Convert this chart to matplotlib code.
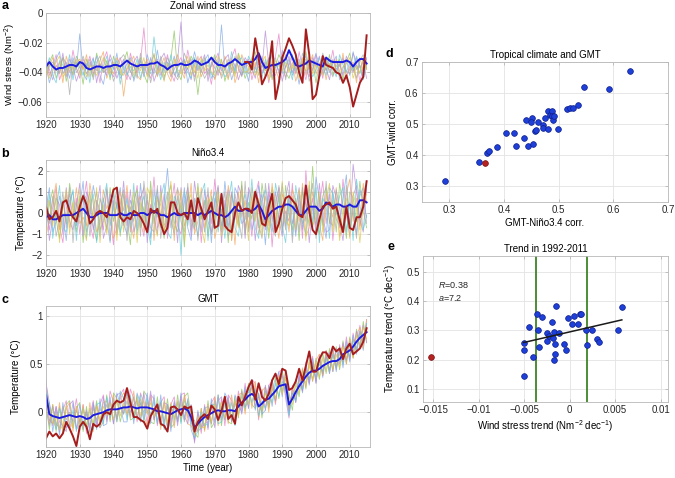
import numpy as np
import matplotlib.pyplot as plt

plt.rcParams['font.family'] = ['Liberation Sans', 'DejaVu Sans']
plt.rcParams['mathtext.fontset'] = 'custom'
plt.rcParams['mathtext.rm'] = 'Liberation Sans'
plt.rcParams['mathtext.it'] = 'Liberation Sans:italic'
plt.rcParams['font.size'] = 7

years = np.arange(1920, 2016)
obs_wind_years = np.arange(1979, 2016)

# ---- a: zonal wind stress, in 1e-3 N m-2 ----
wind_mean = [
    -36, -33, -36, -38, -37, -37, -36, -35, -35, -36, -33, -34,
    -37, -38, -37, -36, -36, -37, -36, -36, -35, -35, -36, -34,
    -32, -34, -35, -36, -35, -35, -35, -34, -34, -33, -35, -36,
    -38, -36, -35, -35, -34, -35, -35, -34, -32, -33, -35, -34,
    -33, -30, -33, -35, -35, -36, -34, -33, -31, -33, -35, -34,
    -33, -33, -31, -27, -33, -37, -36, -35, -35, -34, -33, -31,
    -25, -30, -35, -36, -35, -34, -32, -33, -34, -35, -36, -30,
    -32, -33, -33, -33, -33, -32, -33, -36, -33, -31, -31, -34]
wind_obs = [
    -33, -33, -38, -17, -30, -48, -43, -37, -19, -58, -47, -30, -24,
    -17, -22, -28, -40, -47, -11, -28, -58, -55, -42, -29, -35, -36,
    -37, -40, -41, -47, -42, -50, -63, -55, -47, -43, -15]
wind_members = [
    [-30, -42, -36, -28, -45, -38, -33, -40, -25, -37, -44, -31,
     -36, -29, -41, -35, -47, -32, -26, -39, -43, -34, -30, -38,
     -45, -27, -36, -40, -33, -10, -38, -44, -35, -31, -42, -37,
     -28, -40, -46, -34, -30, -39, -25, -36, -43, -33, -29, -41,
     -37, -48, -32, -27, -39, -35, -44, -30, -24, -38, -42, -34,
     -31, -45, -36, -28, -40, -33, -47, -35, -29, -14, -38, -43,
     -35, -30, -41, -26, -37, -45, -32, -39, -28, -34, -44, -31,
     -36, -25, -40, -35, -30, -42, -38, -27, -33, -46, -36, -31],
    [-40, -33, -28, -44, -37, -30, -46, -35, -41, -29, -34, -48,
     -31, -38, -43, -27, -36, -40, -32, -45, -29, -37, -42, -33,
     -26, -39, -44, -36, -30, -41, -47, -34, -28, -38, -33, -43,
     -37, -31, -12, -40, -45, -32, -38, -29, -34, -55, -36, -30,
     -42, -35, -28, -40, -31, -46, -37, -33, -41, -27, -35, -44,
     -38, -30, -26, -42, -35, -39, -31, -45, -36, -28, -33, -40,
     -44, -37, -29, -34, -41, -26, -38, -32, -47, -35, -30, -39,
     -28, -42, -36, -31, -45, -33, -27, -39, -35, -41, -30, -37],
    [-35, -47, -39, -31, -26, -41, -36, -44, -30, -38, -14, -40,
     -45, -33, -37, -29, -42, -48, -35, -31, -38, -27, -44, -40,
     -34, -30, -46, -38, -32, -43, -28, -36, -41, -25, -39, -45,
     -33, -37, -29, -43, -36, -31, -47, -38, -26, -35, -40, -32,
     -28, -41, -44, -36, -8, -39, -33, -45, -37, -30, -42, -35,
     -46, -32, -38, -27, -41, -36, -30, -43, -34, -39, -25, -37,
     -31, -42, -36, -48, -33, -29, -40, -35, -27, -44, -38, -32,
     -40, -34, -29, -45, -37, -31, -42, -26, -38, -35, -43, -30],
    [-44, -36, -30, -39, -33, -47, -29, -37, -42, -34, -31, -38,
     -28, -43, -35, -39, -32, -26, -44, -37, -41, -30, -35, -56,
     -38, -33, -29, -42, -45, -36, -31, -39, -27, -43, -36, -30,
     -41, -46, -34, -28, -38, -44, -32, -36, -40, -29, -43, -37,
     -33, -30, -45, -38, -42, -29, -36, -31, -47, -39, -28, -34,
     -36, -41, -33, -47, -29, -37, -43, -32, -38, -44, -35, -28,
     -39, -33, -46, -37, -30, -42, -35, -28, -41, -36, -32, -45,
     -34, -38, -31, -40, -27, -44, -36, -33, -47, -30, -39, -35],
    [-32, -38, -45, -35, -40, -27, -43, -31, -36, -46, -39, -33,
     -41, -36, -30, -47, -34, -38, -42, -28, -35, -44, -37, -31,
     -40, -45, -33, -29, -37, -35, -42, -30, -46, -39, -31, -27,
     -35, -43, -38, -32, -6, -41, -37, -45, -31, -39, -34, -28,
     -46, -33, -37, -42, -35, -31, -28, -40, -34, -45, -38, -30,
     -34, -37, -44, -31, -37, -12, -35, -39, -42, -32, -46, -36,
     -29, -40, -34, -31, -44, -38, -43, -30, -36, -29, -41, -37,
     -45, -31, -38, -34, -42, -29, -35, -40, -30, -37, -33, -44],
    [-38, -30, -42, -47, -32, -35, -39, -28, -45, -33, -37, -42,
     -34, -47, -31, -38, -40, -36, -29, -43, -37, -32, -48, -35,
     -42, -36, -39, -31, -44, -34, -37, -41, -16, -36, -45, -33,
     -39, -28, -42, -37, -33, -35, -40, -44, -30, -38, -32, -35,
     -31, -44, -39, -33, -37, -43, -40, -26, -39, -32, -30, -41,
     -29, -34, -40, -36, -44, -31, -39, -27, -37, -33, -41, -30,
     -36, -45, -31, -42, -27, -35, -33, -43, -38, -30, -37, -42,
     -31, -37, -43, -28, -35, -40, -33, -38, -29, -36, -45, -34],
    [-42, -35, -33, -38, -41, -30, -34, -55, -32, -40, -36, -29,
     -37, -31, -45, -33, -29, -40, -38, -35, -46, -39, -31, -28,
     -33, -40, -35, -44, -27, -39, -33, -47, -37, -42, -29, -40,
     -30, -35, -41, -45, -38, -27, -34, -31, -46, -33, -38, -44,
     -39, -36, -30, -34, -44, -37, -31, -38, -29, -36, -43, -32,
     -41, -38, -30, -35, -32, -44, -33, -36, -30, -41, -29, -45,
     -33, -28, -39, -36, -34, -31, -46, -37, -32, -40, -27, -35,
     -38, -43, -33, -36, -31, -39, -41, -35, -44, -32, -28, -38],
    [-36, -44, -38, -33, -29, -43, -40, -34, -38, -31, -42, -36,
     -43, -35, -38, -42, -37, -30, -34, -41, -33, -36, -39, -42,
     -37, -32, -42, -34, -39, -30, -43, -35, -32, -41, -37, -46,
     -34, -42, -31, -38, -41, -36, -29, -42, -35, -44, -30, -39,
     -35, -40, -42, -29, -33, -38, -45, -34, -43, -28, -37, -40,
     -39, -31, -42, -38, -33, -29, -45, -40, -32, -36, -39, -33,
     -40, -35, -37, -44, -31, -39, -29, -41, -35, -37, -42, -30,
     -37, -32, -39, -42, -36, -34, -30, -44, -36, -40, -31, -38],
]

# ---- b: Nino3.4, in 0.1 degC ----
nino_mean = [
    -2, -1, -3, -3, -2, -1, -1, -1, -1, 0, 1, 2,
    0, -2, -2, -1, 0, 0, 0, -1, -1, -1, 0, -1,
    -1, 0, -1, -1, 0, 0, -1, 0, 1, 0, -1, -1,
    -2, -1, 0, -1, -1, 0, 0, 0, 0, -1, 0, -1,
    0, 1, 0, -1, -1, -2, -1, 1, 3, 1, 1, 2,
    1, 1, 2, 4, 1, -3, -1, 1, 2, 3, 3, 4,
    4, 3, 1, -1, -1, 1, 3, 3, 3, 1, 2, 5,
    4, 3, 4, 4, 3, 3, 4, 3, 3, 6, 6, 5]
nino_obs = [
    3, -3, -2, 1, -4, 5, 6, 1, -2, -4, 3, 8,
    4, -5, -3, 0, 1, 0, -2, 4, 11, 12, -2, -4,
    -2, -3, 1, 0, -2, -5, -9, 2, 0, 2, -5, -10,
    -7, 5, 5, 0, -1, 0, -3, 6, -4, 7, 2, -3,
    1, 5, -7, -6, 9, -6, -8, -9, 0, 5, 1, 2,
    2, 0, 10, 4, -5, -6, 3, 9, -9, -5, 2, 7,
    8, 6, 4, -1, -2, 13, 1, -8, -10, -3, 3, 4,
    5, 2, 3, -3, -9, 3, -7, -8, -2, -2, 3, 15]
nino_members = [
    [5, -8, 3, 12, -6, -14, 2, 9, -3, 7, -10, 4,
     15, -5, -12, 6, 1, -8, 11, -2, -15, 8, 3, -6,
     10, -9, 4, 13, -4, -11, 6, -1, 17, -7, -3, 9,
     -12, 2, 14, -6, -10, 5, 12, -3, -8, 7, -14, 4,
     9, -5, 16, -2, -9, 3, 11, -13, 6, -4, 13, -7,
     2, -11, 8, 15, -6, -3, 10, -16, 5, 12, -8, 1,
     -4, 14, -9, 6, -12, 20, -2, 7, -10, 3, 15, -5,
     9, -13, 4, -7, 16, -1, -11, 8, 13, -6, 2, 11],
    [-7, 4, 11, -3, -12, 6, -5, 14, 2, -9, 8, -14,
     3, 10, -6, -13, 7, 1, -8, 12, -4, 5, -11, 9,
     -2, -15, 6, 11, -7, 3, -10, 15, -5, 8, -1, -12,
     7, 13, -4, -9, 5, -16, 10, 2, -7, 14, -3, 6,
     -11, 8, -2, 12, -8, 4, -14, 9, 1, -6, 15, -10,
     5, -3, 11, -7, 14, 2, -12, 6, -5, 9, -9, 13,
     -1, -8, 7, -13, 10, 4, -6, 22, -3, -10, 8, 12,
     -5, 6, -9, 14, 3, -12, 10, 7, -4, 15, 1, -7],
    [2, 12, -9, -4, 8, -1, -13, 6, 10, -6, 3, 15,
     -9, -2, 13, 4, -11, 7, -3, -14, 9, 2, 12, -5,
     -10, 6, 1, -8, 14, -4, 9, -12, 3, 11, -7, 5,
     21, -3, -10, 8, -2, 12, -7, -13, 4, 10, 1, -9,
     6, -14, 7, 3, -6, 15, -1, -10, 12, 8, -5, -3,
     10, -8, -2, 13, 4, -15, 7, 11, -9, -1, 14, -6,
     8, 3, -11, 9, -5, -2, 13, -8, 17, 6, -4, -12,
     12, 9, -3, -6, 7, 18, -8, 4, -10, 11, 6, -2],
    [-11, -3, 6, 14, -8, 3, 9, -7, -1, 12, -5, -2,
     -6, 14, 4, -9, -5, 11, 2, 6, -12, -7, 10, 1,
     13, -4, -12, 5, 8, -9, -2, 11, -13, 6, 4, -8,
     -3, 9, -13, 11, 7, -6, -1, 14, -10, -4, 12, -7,
     2, 11, -12, -5, 9, -8, 13, 4, -15, 10, -2, 6,
     -7, 12, 5, -10, -3, 8, -6, 14, -2, -12, 9, 4,
     -9, 11, 6, -4, 14, -11, -7, 10, 2, -5, -13, 9,
     3, -2, 12, -11, -6, 9, 16, -4, 7, -8, 14, 5],
    [8, -13, -2, 7, 4, -10, 12, -4, -8, 3, 14, -11,
     10, 5, -8, 2, 13, -12, -6, 9, 4, -10, -2, 15,
     -6, 11, -9, -3, 7, 12, -14, 4, -2, -10, 13, -5,
     -8, 6, 3, -14, 12, -2, 8, -11, 15, 3, -9, 11,
     -4, -9, 5, 13, -14, 6, -7, 10, -3, 13, 8, -12,
     12, 6, -13, 3, 9, -8, 14, -4, 10, -3, -11, 7,
     15, -5, 2, 12, -8, 7, -14, 3, -6, 14, -2, -9,
     -8, 13, 7, -4, -13, 4, -5, 23, 10, -3, -9, 13],
    [-4, 9, -12, 1, 13, -7, -9, 3, 11, -13, 5, 8,
     -12, 3, 9, -14, -2, 6, 14, -6, 2, 12, -9, -3,
     7, -7, 14, -10, 2, 8, -5, -15, 11, -2, 7, 14,
     -9, -12, 8, 4, -20, 10, -6, 5, -2, -11, 9, 14,
     -13, 4, 10, -9, 2, -12, 5, 15, -7, -11, 3, 9,
     -2, 16, -7, -12, 6, 11, -3, -9, 14, 5, -6, -14,
     6, -11, 13, 2, -4, -10, 9, -5, 12, -14, 7, 3,
     -12, 10, -1, 8, 12, -9, 5, -13, 16, 4, -8, -1],
    [12, -5, 8, -11, -3, 10, -7, 12, -14, 5, -2, 9,
     7, -11, 2, 10, -8, -4, 12, -13, 6, -8, 4, 11,
     -13, 3, -4, 9, -11, 15, 2, -7, -9, 13, -12, 1,
     10, -7, 5, 12, -4, -9, 14, -8, 7, -13, 3, -2,
     12, -10, -4, 8, -1, 10, -11, -6, 9, -2, -12, 15,
     -9, 4, 10, -5, -12, 14, 1, -7, -11, 13, 3, -8,
     11, -14, 5, -9, 12, -4, 3, 14, -12, 8, -6, 15,
     -4, -6, 11, 2, -9, 13, -7, 1, -12, 8, 12, -5],
    [-2, 6, -6, 9, -14, 2, 11, -10, 5, -4, 11, -6,
     -13, 8, -3, 12, -14, 4, -10, 3, 12, -13, 7, -9,
     4, -1, 10, -14, 5, -6, 12, 8, -4, -11, 10, -9,
     3, 15, -8, -2, 11, -13, 4, 9, -5, 12, -6, -14,
     7, 2, -8, 10, -11, -4, 9, -13, 5, -7, 11, 2,
     -13, 9, -4, 7, -11, 3, -9, 12, 6, -7, 15, -4,
     -6, 8, -8, 11, 3, -13, 15, -6, -2, 10, -9, 6,
     14, -9, 6, -13, 2, 7, -12, 10, 2, -14, 4, 9],
]

# ---- c: GMT, in 0.01 degC ----
gmt_mean = [
    18, -2, -4, -5, -6, -5, -4, -3, -4, -5, -4, -5,
    -7, -6, -3, -2, -1, 0, 2, 3, 3, 3, 4, 5,
    5, 6, 5, 4, 5, 5, 5, 4, 3, 1, 1, 0,
    -1, -2, 0, 2, 3, 4, 2, -5, -16, -12, -8, -5,
    -3, -1, 1, 2, 1, 1, 2, 2, 1, 6, 10, 13,
    17, 19, 16, 6, 9, 13, 14, 18, 22, 27, 28, 29,
    8, 14, 21, 27, 32, 37, 41, 43, 43, 45, 48, 50,
    52, 53, 53, 55, 60, 62, 64, 68, 73, 77, 80, 83]
gmt_obs = [
    -27, -20, -25, -22, -27, -22, -10, -17, -25, -35, -15, -10,
    -15, -28, -12, -15, -12, -2, 0, -2, 8, 12, 10, 12,
    25, 10, -5, -5, -8, -10, -17, -4, 2, 8, -12, -14,
    -20, 5, 6, 3, -3, 6, 4, 6, -20, -10, -5, -2,
    -7, 7, 3, -8, 1, 16, -7, -3, -12, 16, 7, 16,
    26, 33, 13, 30, 16, 12, 19, 33, 40, 29, 45, 43,
    23, 25, 32, 45, 33, 48, 63, 42, 42, 55, 62, 62,
    56, 68, 63, 66, 55, 66, 71, 60, 63, 66, 73, 87]
gmt_members = [
    [30, 10, -14, 6, -20, 2, 12, -18, -6, 14, -12, 8,
     -22, -4, 12, -14, 8, 18, -10, 22, 10, -6, 18, 24,
     -4, 24, 14, -10, 20, 10, -12, 18, 14, -14, 10, 16,
     -16, 8, 16, -10, 18, 20, -6, 4, -30, -2, -22, 8,
     -18, 10, 16, -8, 14, -14, 18, 12, -12, 22, 2, 30,
     4, 34, 30, -8, 24, 2, 28, 32, 8, 42, 44, 14,
     -6, 28, 10, 40, 22, 52, 30, 58, 30, 60, 38, 64,
     40, 68, 44, 70, 50, 78, 54, 82, 62, 90, 70, 96],
    [8, -18, 8, -20, 6, -22, 8, 12, -16, 4, 10, -20,
     6, -22, -12, 12, -16, -10, 18, -10, 20, 14, -10, 6,
     20, -8, -6, 18, -10, 22, 16, -10, -12, 16, -14, -12,
     14, -16, -12, 18, -10, 16, 20, -6, -22, -26, 4, -18,
     12, -16, -10, 18, -14, 16, -10, -12, 16, -6, 24, 2,
     30, 8, 4, 20, -6, 26, 4, 22, 36, 14, 42, 24,
     20, 2, 34, 16, 44, 24, 54, 32, 56, 34, 62, 40,
     66, 42, 68, 44, 74, 50, 78, 56, 86, 66, 94, 72],
    [4, 10, -20, 2, -24, 10, -16, -12, 10, -20, 8, -14,
     -2, -18, 10, -18, 14, -14, -12, 16, -12, 20, 8, -10,
     -10, 16, -12, 20, 8, -8, 20, -12, 18, -12, 18, -16,
     8, -20, 12, -10, 20, -8, 14, -18, -28, 2, -18, 6,
     -16, 14, -10, 18, -8, 20, 12, -10, 18, 8, 0, 26,
     4, 34, 2, 20, -2, 2, 28, 6, 32, 42, 16, 44,
     -2, 24, 10, 38, 20, 48, 28, 56, 30, 58, 36, 58,
     40, 66, 42, 68, 46, 74, 52, 80, 60, 82, 64, 92],
    [20, -12, 8, -16, 10, -18, 4, 10, -20, 6, -18, 8,
     -18, 10, -20, 8, -12, 10, 12, -8, 18, -10, 14, 20,
     14, -6, 22, -8, 14, -4, -14, 16, -8, 10, -18, 12,
     -14, 10, -16, 12, -8, 18, -12, -14, -22, -18, 4, -20,
     8, -12, 16, -14, 10, 12, -12, 18, -10, 18, 20, -2,
     28, 4, 32, -6, 22, 26, 0, 30, 10, 38, 18, 44,
     2, 24, 16, 28, 46, 26, 52, 32, 54, 60, 38, 64,
     42, 64, 48, 60, 70, 50, 76, 56, 80, 88, 66, 96],
    [34, -8, -12, 6, -10, -14, -20, 8, 12, -16, -8, -12,
     2, -20, 8, -10, -16, 16, -8, 12, -12, 18, 20, -2,
     22, 0, 8, 12, -10, 20, -2, 22, -8, 8, -10, 10,
     8, -10, 10, -14, 16, -4, -12, 8, -32, 0, -16, -12,
     -10, 6, -16, 12, 16, -8, 16, -8, 10, 14, -2, 22,
     20, 26, 6, 16, 2, 28, 8, 34, 12, 32, 38, 18,
     0, 20, 12, 36, 22, 48, 30, 52, 32, 56, 42, 56,
     62, 42, 66, 50, 72, 54, 70, 62, 84, 68, 90, 72],
    [26, 8, -6, -18, 4, -6, -12, -14, 2, -18, -12, 4,
     -14, 4, -18, 8, 10, -12, 16, -6, 8, -10, 22, 14,
     -8, 18, -8, 6, 18, -10, 14, -6, 12, -10, 12, -18,
     -10, 8, -8, 10, -12, 12, 6, -10, -26, -20, 0, -14,
     -12, 8, 8, -12, -10, 10, -6, 10, -14, 10, 16, 4,
     24, 10, 24, -4, 12, 4, 20, 10, 30, 16, 32, 22,
     -4, 20, 12, 30, 24, 42, 34, 48, 36, 50, 42, 56,
     42, 60, 46, 64, 50, 70, 58, 74, 64, 84, 72, 92],
    [6, -14, 6, -12, -16, 6, -8, 0, -10, 2, -8, -18,
     0, -14, 4, -8, 4, -6, 8, -4, 14, -8, 6, -2,
     12, -4, 16, -6, 10, 0, 10, -2, 2, -2, 10, -10,
     6, -14, 6, -8, 10, -10, 12, -12, -8, -20, -16, 4,
     6, -12, 12, -8, 6, -8, 12, -10, 10, -2, 22, 6,
     10, 28, 6, 18, 0, 22, 6, 26, 12, 34, 22, 36,
     4, 20, 14, 34, 26, 44, 34, 52, 34, 54, 40, 60,
     44, 60, 46, 64, 52, 68, 56, 76, 66, 84, 74, 90],
    [14, 6, -12, -2, -18, -14, 6, -12, -16, 6, -16, 4,
     -16, 4, -14, 6, -8, 6, -4, 10, -8, 14, -4, 10,
     -2, 14, -6, 14, -4, 12, -2, 10, -4, 8, -8, 10,
     -12, 8, -6, 10, -4, 14, -4, 2, -24, -4, -16, -16,
     4, -10, 8, -4, 10, -6, 8, -6, 12, -4, 16, 20,
     8, 26, 10, 14, 2, 20, 6, 26, 14, 36, 20, 36,
     16, 8, 28, 20, 40, 30, 48, 34, 52, 36, 56, 42,
     60, 44, 60, 46, 68, 56, 72, 58, 80, 70, 88, 76],
]

# ---- d: correlations ----
d_nino = [0.292, 0.354, 0.369, 0.372, 0.388, 0.403, 0.419, 0.422, 0.436,
          0.440, 0.443, 0.451, 0.450, 0.453, 0.456, 0.458, 0.463, 0.471,
          0.471, 0.475, 0.480, 0.480, 0.484, 0.488, 0.487, 0.489, 0.492,
          0.498, 0.516, 0.521, 0.526, 0.536, 0.547, 0.592, 0.631]
d_wind = [0.316, 0.380, 0.407, 0.414, 0.427, 0.472, 0.472, 0.431, 0.457,
          0.514, 0.429, 0.520, 0.507, 0.438, 0.478, 0.481, 0.507, 0.499,
          0.487, 0.520, 0.544, 0.486, 0.529, 0.544, 0.527, 0.514, 0.527,
          0.486, 0.548, 0.551, 0.551, 0.563, 0.619, 0.614, 0.672]
d_obs = (0.366, 0.376)

# ---- e: trends 1992-2011 ----
e_wind = [-0.00504, -0.00504, -0.00504, -0.00449, -0.00398, -0.00354,
          -0.00350, -0.00336, -0.00307, -0.00252, -0.00245, -0.00226,
          -0.00193, -0.00182, -0.00175, -0.00168, -0.00161, -0.00157,
          -0.00150, -0.00120, -0.00058, -0.00036, -0.00022, 0.00029,
          0.00047, 0.00095, 0.00109, 0.00120, 0.00182, 0.00186, 0.00245,
          0.00303, 0.00321, 0.00533, 0.00573]
e_temp = [0.143, 0.233, 0.257, 0.311, 0.210, 0.357, 0.302, 0.243, 0.345,
          0.265, 0.291, 0.282, 0.330, 0.273, 0.295, 0.200, 0.220, 0.253,
          0.383, 0.293, 0.252, 0.233, 0.343, 0.323, 0.350, 0.323, 0.358,
          0.357, 0.303, 0.249, 0.300, 0.270, 0.261, 0.301, 0.380]
e_obs = (-0.01526, 0.209)
e_bounds = [-0.0037, 0.0019]
e_slope, e_icpt = 7.2, 0.295

member_colors = ['#e57fc8', '#8cc45a', '#7fa8e6', '#f2a65a', '#b48ad8',
                 '#63cbd9', '#a8a8a8', '#dcc64a']
BLUE = '#1c1ce0'
RED = '#a51d1d'


def style(ax):
    ax.grid(True, color='#e3e3e3', lw=0.6)
    ax.set_axisbelow(True)
    for s in ax.spines.values():
        s.set_color('#b8b8b8')
        s.set_linewidth(0.6)
    ax.tick_params(direction='in', length=2.5, width=0.6, color='#b8b8b8',
                   labelcolor='#262626', labelsize=7, top=True, right=True,
                   pad=2.5)


def ts_panel(ax, members, mean, obs_years, obs, scale):
    for i, m in enumerate(members):
        ax.plot(years, np.array(m) * scale, color=member_colors[i], lw=0.6, alpha=0.75)
    ax.plot(years, np.array(mean) * scale, color=BLUE, lw=1.4)
    ax.plot(obs_years, np.array(obs) * scale, color=RED, lw=1.4)
    ax.set_xlim(1920, 2016)
    ax.set_xticks(np.arange(1920, 2011, 10))
    style(ax)


W, H = 675, 478
fig = plt.figure(figsize=(W / 100, H / 100), dpi=100)


def px_axes(l, t, r, b):
    return fig.add_axes([l / W, 1 - b / H, (r - l) / W, (b - t) / H])


ax_a = px_axes(46, 13, 370, 117)
ts_panel(ax_a, wind_members, wind_mean, obs_wind_years, wind_obs, 1e-3)
ax_a.set_ylim(-0.07, 0)
ax_a.set_yticks([-0.06, -0.04, -0.02, 0])
ax_a.set_yticklabels(['\u22120.06', '\u22120.04', '\u22120.02', '0'])
ax_a.set_ylabel('Wind stress (Nm$^{-2}$)', fontsize=6.8)
ax_a.yaxis.set_label_coords(-0.086, 0.5)
ax_a.set_title('Zonal wind stress', fontsize=7, pad=3)

ax_b = px_axes(46, 160, 370, 266)
ts_panel(ax_b, nino_members, nino_mean, years, nino_obs, 0.1)
ax_b.set_ylim(-2.5, 2.5)
ax_b.set_yticks([-2, -1, 0, 1, 2])
ax_b.set_ylabel('Temperature (\u00b0C)')
ax_b.yaxis.set_label_coords(-0.062, 0.5)
ax_b.set_title('Ni\u00f1o3.4', fontsize=7, pad=3)

ax_c = px_axes(46, 306, 370, 447)
ts_panel(ax_c, gmt_members, gmt_mean, years, gmt_obs, 0.01)
ax_c.set_ylim(-0.36, 1.1)
ax_c.set_yticks([0, 0.5, 1])
ax_c.set_yticklabels(['0', '0.5', '1'])
ax_c.set_ylabel('Temperature (\u00b0C)')
ax_c.yaxis.set_label_coords(-0.077, 0.5)
ax_c.set_xlabel('Time (year)', labelpad=2)
ax_c.set_title('GMT', fontsize=7, pad=3)

ax_d = px_axes(422, 62, 668, 202)
ax_d.scatter(d_nino, d_wind, s=17, color='#1e3fd8', edgecolor='#0d1f8a', lw=0.5, zorder=3)
ax_d.scatter([d_obs[0]], [d_obs[1]], s=17, color='#b52222', edgecolor='#7a1010', lw=0.5, zorder=3)
ax_d.set_xlim(0.25, 0.7)
ax_d.set_ylim(0.25, 0.7)
ax_d.set_xticks([0.3, 0.4, 0.5, 0.6, 0.7])
ax_d.set_yticks([0.3, 0.4, 0.5, 0.6, 0.7])
style(ax_d)
ax_d.set_xlabel('GMT-Ni\u00f1o3.4 corr.', labelpad=2)
ax_d.set_ylabel('GMT-wind corr.')
ax_d.yaxis.set_label_coords(-0.098, 0.5)
ax_d.set_title('Tropical climate and GMT', fontsize=7, pad=3)

ax_e = px_axes(423, 256, 668, 402)
for xb in e_bounds:
    ax_e.axvline(xb, color='#2f7a14', lw=1.2, zorder=2)
xx = np.array([min(e_wind), max(e_wind)])
ax_e.plot(xx, e_icpt + e_slope * xx, color='#1a1a1a', lw=1.1, zorder=4)
ax_e.scatter(e_wind, e_temp, s=17, color='#1e3fd8', edgecolor='#0d1f8a', lw=0.5, zorder=3)
ax_e.scatter([e_obs[0]], [e_obs[1]], s=17, color='#b52222', edgecolor='#7a1010', lw=0.5, zorder=3)
ax_e.set_xlim(-0.0161, 0.0108)
ax_e.set_ylim(0.055, 0.555)
e_xt = [-0.015, -0.01, -0.005, 0, 0.005, 0.01]
ax_e.set_xticks(e_xt)
ax_e.set_xticklabels([('%g' % v).replace('-', '\u2212') for v in e_xt])
ax_e.set_yticks([0.1, 0.2, 0.3, 0.4, 0.5])
style(ax_e)
ax_e.text(-0.0144, 0.457, '$R$=0.38', fontsize=6.5, va='center', color='#262626')
ax_e.text(-0.0144, 0.410, '$a$=7.2', fontsize=6.5, va='center', color='#262626')
ax_e.set_xlabel('Wind stress trend (Nm$^{-2}$ dec$^{-1}$)', labelpad=2)
ax_e.set_ylabel('Temperature trend (\u00b0C dec$^{-1}$)')
ax_e.yaxis.set_label_coords(-0.1, 0.5)
ax_e.set_title('Trend in 1992-2011', fontsize=7, pad=3)

for letter, (x, y) in zip('abcde', [(2, 9), (1, 157), (1, 303), (385, 57), (387, 250)]):
    fig.text(x / W, 1 - y / H, letter, fontsize=9, fontweight='bold', va='baseline')

fig.savefig('out.png', dpi=100)
